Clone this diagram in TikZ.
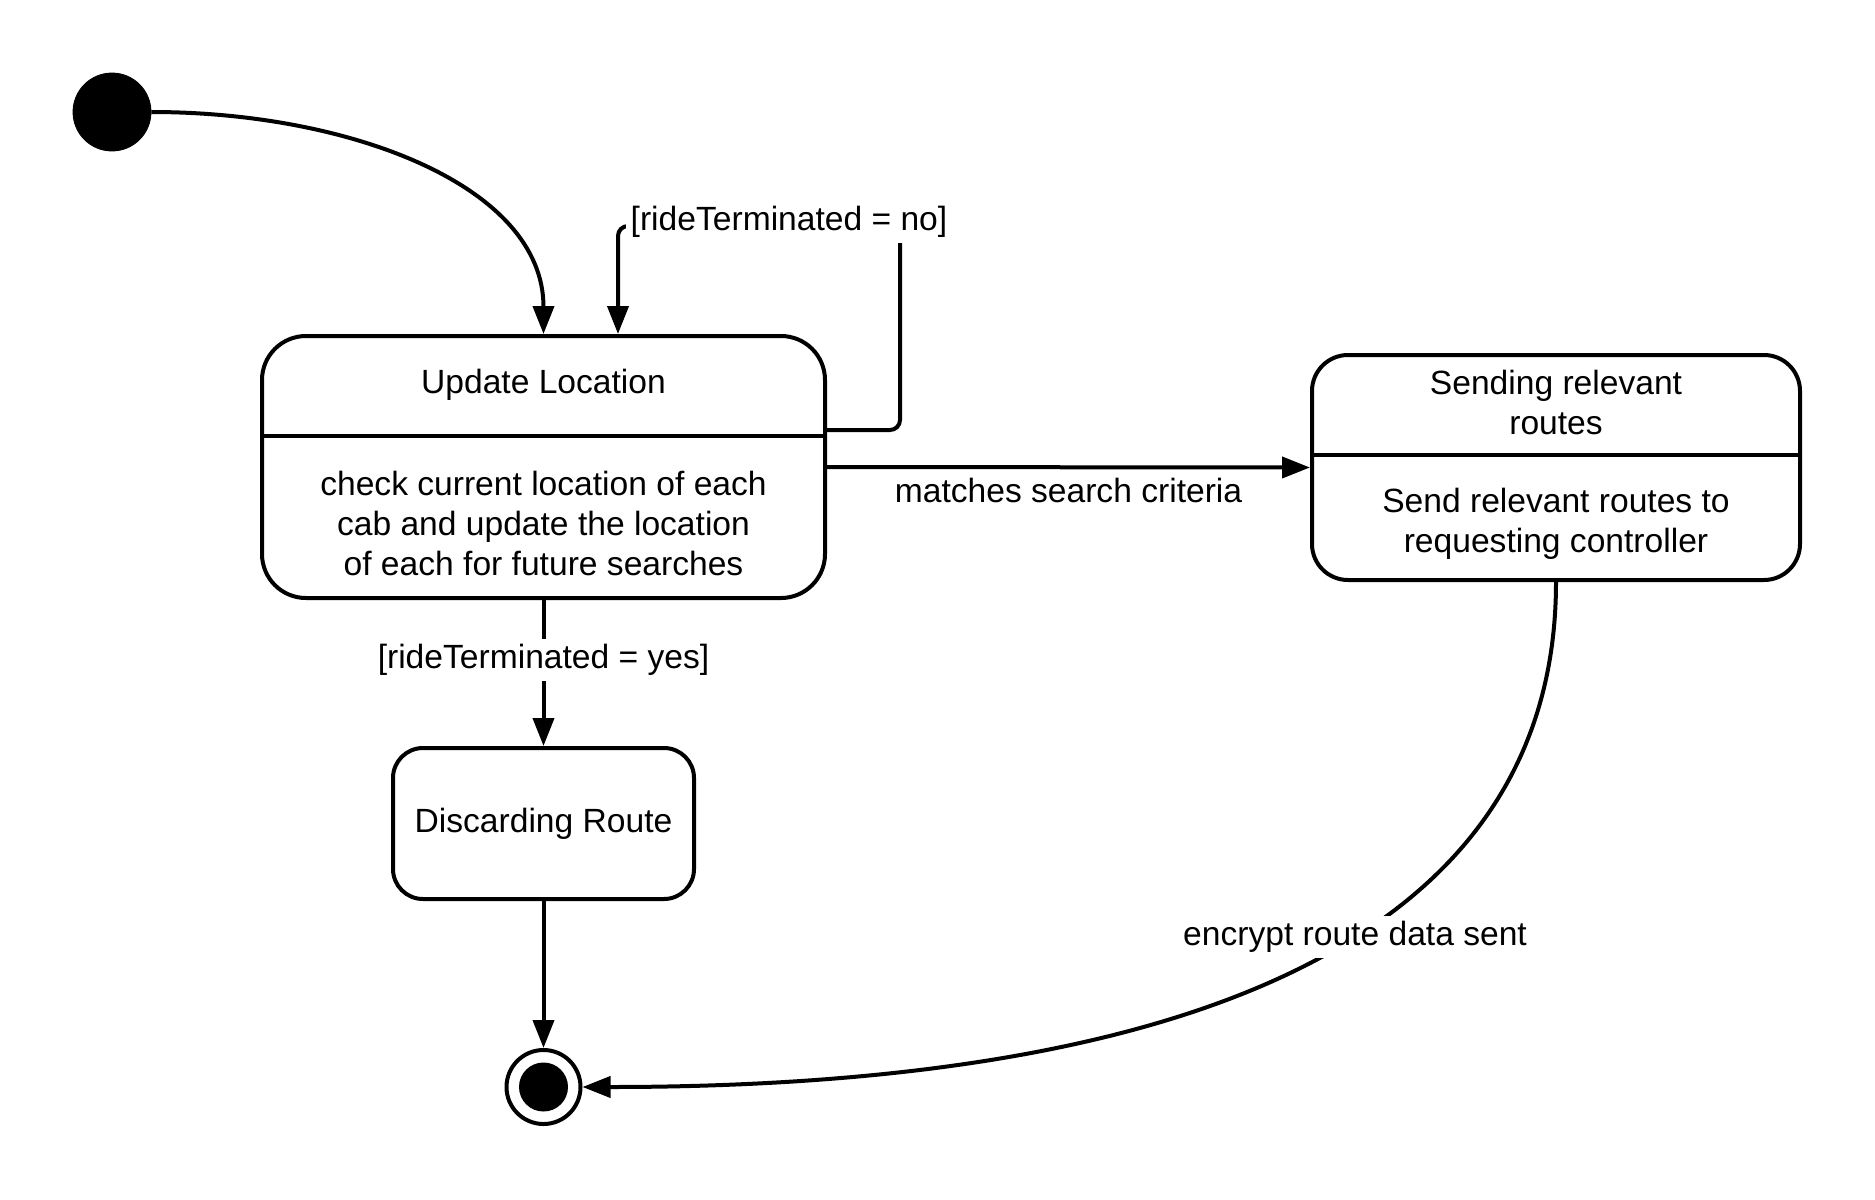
\documentclass[tikz,border=0pt]{standalone}
\usepackage{fontspec}
\setmainfont{Liberation Sans}
\usetikzlibrary{arrows.meta}
\begin{document}
\begin{tikzpicture}[x=0.5pt,y=-0.5pt,
  every node/.style={font=\fontsize{16.8}{20}\selectfont},
  box/.style={draw, line width=2pt, fill=white},
  conn/.style={line width=2pt, -{Triangle[length=14pt,width=10.5pt]}},
  plain/.style={line width=2pt},
  lbl/.style={fill=white, inner sep=2.5pt},
  txt/.style={inner sep=0pt, align=center}]
\useasboundingbox (0,0) rectangle (1875,1200);
% states
\node[draw, circle, fill=black, minimum size=39pt, inner sep=0pt] (init) at (112,112) {};
\node[box, rounded corners=22pt, minimum width=281.5pt, minimum height=131pt] (upd) at (543.5,467) {};
\draw[plain] (upd.west |- 0,436) -- (upd.east |- 0,436);
\node[txt] (updt) at (543.5,385) {Update Location};
\node[txt] (updb) at (543.5,523) {check current location of each\\cab and update the location\\of each for future searches};
\node[box, rounded corners=18pt, minimum width=244pt, minimum height=112.5pt] (snd) at (1556,467.5) {};
\draw[plain] (snd.west |- 0,455) -- (snd.east |- 0,455);
\node[txt] (sndt) at (1556,402) {Sending relevant\\routes};
\node[txt] (sndb) at (1556,524) {Send relevant routes to\\requesting controller};
\node[box, rounded corners=15pt, minimum width=150.5pt, minimum height=75.5pt] (dis) at (543.5,823.5) {Discarding Route};
\node[circle, draw, line width=2pt, minimum size=37pt, inner sep=0pt] (fin) at (543.5,1087) {};
\node[circle, fill=black, minimum size=24.5pt, inner sep=0pt] (fdot) at (fin.center) {};
% connectors
\draw[conn] (init.east) .. controls (350,112) and (543.5,186) .. (upd.north);
\draw[conn, rounded corners=5pt] (upd.east |- 0,430) -| (900,226) -- (618,226) -- (618,0 |- upd.north);
\node[lbl] (lno) at (789,222) {[rideTerminated = no]};
\draw[conn] (upd.east) -- (snd.west) node[midway, yshift=-11.5pt, inner sep=0pt] (lmatch) {matches search criteria};
\draw[conn] (upd.south) -- (dis.north);
\node[lbl] (lyes) at (543.5,660) {[rideTerminated = yes]};
\draw[conn] (dis.south) -- (fin.north);
\draw[conn] (snd.south) .. controls (1556,980) and (1100,1087) .. (fin.east);
\node[lbl] (lenc) at (1355,937) {encrypt route data sent};
\end{tikzpicture}
\end{document}
